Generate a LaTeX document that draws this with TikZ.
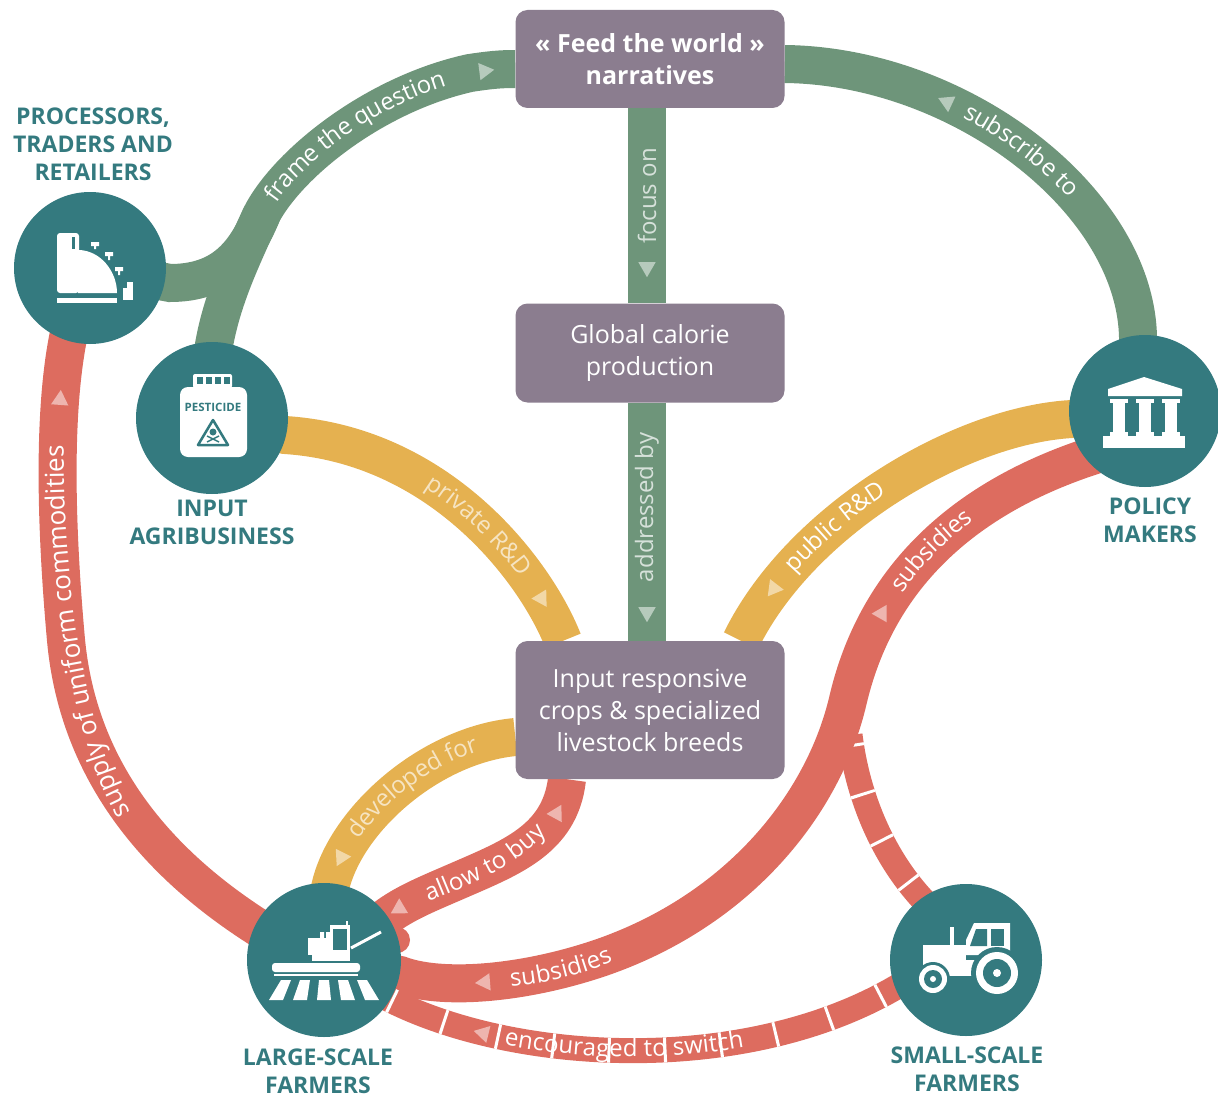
\documentclass[tikz,border=0pt]{standalone}
\usepackage{fontspec}
\setmainfont{Open Sans}
\usetikzlibrary{positioning, shapes.geometric, decorations.text}

\definecolor{tealc}{HTML}{347A7F}
\definecolor{greenc}{HTML}{6E957A}
\definecolor{boxc}{HTML}{8B7D8F}
\definecolor{yellowc}{HTML}{E5B150}
\definecolor{redc}{HTML}{DD6C5F}

\pgfdeclarelayer{bands}
\pgfsetlayers{bands,main}

\newcommand\onband{\fontsize{24}{28}\selectfont\color{white}}
\newcommand\paleg{\fontsize{24}{28}\selectfont\color{white!72!greenc}}
\newcommand\paley{\fontsize{24}{28}\selectfont\color{white!65!yellowc}}
\newcommand\onbandbig{\fontsize{26}{30}\selectfont\color{white}}

\tikzset{
    box/.style={rectangle, rounded corners=12pt, fill=boxc, text=white, minimum width=269pt,
        minimum height=98pt, align=center, font=\fontsize{25}{32}\selectfont},
    actor/.style={circle, fill=tealc, minimum size=152pt, inner sep=0pt},
    who/.style={text=tealc, font=\bfseries\fontsize{23}{28}\selectfont, align=center, inner sep=0pt},
    band/.style={line width=38pt},
    thinband/.style={line width=25pt, redc},
    ticks/.style={line width=25pt, white},
    tip/.style={isosceles triangle, isosceles triangle apex angle=60, fill=white, fill opacity=0.5,
        inner sep=0pt, minimum size=15pt, sloped, allow upside down},
    back/.style={shape border rotate=180},
    along/.style={decorate, decoration={text along path, text align=center, raise=-6.5pt, text={#1}}}
}

\begin{document}
\begin{tikzpicture}[x=1pt, y=-1pt]
    \useasboundingbox (0,0) rectangle (1218,1097);

    \node[box, font=\bfseries\fontsize{25}{32}\selectfont] (Feed) at (650,59) {« Feed the world »\\narratives};
    \node[box, minimum height=99pt] (Calorie) at (650,353) {Global calorie\\production};
    \node[box, minimum height=138pt] (Crops) at (650,710) {Input responsive\\crops \& specialized\\livestock breeds};

    \node[actor]                    (Processors)   at (90,268)  {};
    \node[actor]                    (Agribusiness) at (212,418) {};
    \node[actor]                    (Policy)       at (1145,411) {};
    \node[actor, minimum size=154pt] (Large)       at (324,960) {};
    \node[actor]                    (Small)        at (966,960) {};

    \node[who, above=11pt of Processors, xshift=3pt] (Processors label)   {PROCESSORS,\\TRADERS AND\\RETAILERS};
    \node[who, below=6pt of Agribusiness]            (Agribusiness label) {INPUT\\AGRIBUSINESS};
    \node[who, below=10pt of Policy, xshift=5pt]     (Policy label)       {POLICY\\MAKERS};
    \node[who, below=11pt of Large, xshift=-6pt]     (Large label)        {LARGE-SCALE\\FARMERS};
    \node[who, below=10pt of Small, xshift=1pt]      (Small label)        {SMALL-SCALE\\FARMERS};

    % icons
    \begin{scope}[shift={(Processors.center)}, white]
        \fill[rounded corners=3pt] (-33,-35) rectangle (-11,25);
        \fill (-12,25) -- (-12,-18) .. controls (10,-18) and (27,3) .. (27,25) -- cycle;
        \fill (-33,30) rectangle (27,35);
        \fill[tealc] (-18,-31) rectangle (-15,-19);
        \fill (1,-26) rectangle (9,-22) (4,-23) rectangle (6,-19);
        \fill (15,-16) rectangle (23,-12) (18,-13) rectangle (20,-8);
        \fill (25,-1) rectangle (33,3) (28,2) rectangle (30,7);
        \fill (33,14) rectangle (43,32);
        \fill[tealc] (33,14) rectangle (37,20);
    \end{scope}
    \begin{scope}[shift={(Agribusiness.center)}]
        \fill[white, rounded corners=8pt] (-32,-31) rectangle (35,39);
        \fill[white, rounded corners=2pt] (-19,-44) rectangle (20,-30);
        \foreach \x in {-15,-6,3,12} \fill[tealc] (\x,-41) rectangle ++(6,7);
        \node[text=tealc, font=\bfseries\fontsize{11.5}{12}\selectfont, inner sep=0pt] (Pesticide) at (1,-11) {PESTICIDE};
        \draw[tealc, line width=2.5pt, line join=round] (1,2) -- (16,27) -- (-14,27) -- cycle;
        \fill[tealc] (1,14) circle (3.5pt);
        \draw[tealc, line width=1.5pt] (-5,18) -- (7,24) (-5,24) -- (7,18);
    \end{scope}
    \begin{scope}[shift={(Policy.center)}, white]
        \fill (-37,-15) -- (-37,-22) -- (-1,-34) -- (37,-22) -- (37,-15) -- cycle;
        \foreach \x in {-26,0,26} {
            \fill ({\x-9},-12) rectangle ({\x+9},-8);
            \fill ({\x-6},-8) rectangle ({\x+6},21);
            \fill ({\x-9},21) rectangle ({\x+9},25);
        }
        \fill (-42,25) rectangle (40,37);
    \end{scope}
    \begin{scope}[shift={(Large.center)}, white]
        \fill (6,-35) rectangle (26,-8);
        \fill[tealc] (9,-31) rectangle (23,-10);
        \fill (22,-39) rectangle (24,-35);
        \fill (-16,-22) rectangle (6,-5);
        \fill (-4,-28) rectangle (0,-22) (2,-28) rectangle (6,-22);
        \fill (-12,-8) rectangle (26,1);
        \fill[rounded corners=3pt] (-52,3) rectangle (36,12);
        \fill (-50,14) rectangle (34,16);
        \draw[line width=3pt] (27,-12) -- (57,-28);
        \foreach \i in {-2,...,2}
            \fill ({\i*19-5},20) -- ({\i*19+5},20) -- ({\i*24+7},40) -- ({\i*24-7},40) -- cycle;
    \end{scope}
    \begin{scope}[shift={(Small.center)}]
        \fill[white] (-43,-15) rectangle (0,5);
        \fill[white] (-28,0) rectangle (14,16);
        \fill[white] (-16,-33) rectangle (-12,-15);
        \fill[white] (0,-5) -- (0,-20) -- (8,-37) -- (44,-37) -- (44,-5) -- cycle;
        \fill[tealc] (10,-31) -- (21,-31) -- (21,-14) -- (4,-14) -- cycle;
        \fill[tealc] (25,-31) rectangle (38,-14);
        \fill[tealc] (31,13) circle (26pt);
        \fill[white] (31,13) circle (21pt);
        \fill[tealc] (31,13) circle (14pt);
        \fill[white] (31,13) circle (4pt);
        \fill[tealc] (-33,19) circle (17pt);
        \fill[white] (-33,19) circle (14pt);
        \fill[tealc] (-33,19) circle (9pt);
        \fill[white] (-33,19) circle (3pt);
    \end{scope}

    \begin{pgfonlayer}{bands}
        % green
        \draw[band, greenc] (Agribusiness.center) -- (214,345) .. controls (222,300) and (240,262) .. (258,222)
            .. controls (280,170) and (370,95) .. (470,73)
            .. controls (490,70) and (500,69) .. ([yshift=-10pt]Feed.west) node[tip, pos=0.27] {};
        \draw[band, greenc] (Processors.center) -- (170,283) .. controls (222,283) and (245,255) .. (262,214);
        \path[along={|\onband|frame the question}] (258,222) .. controls (280,170) and (370,95) .. (470,73);

        \draw[band, greenc] ([yshift=-5pt]Feed.east) .. controls (960,66) and (1135,200) .. (1138,337)
            node[tip, back, pos=0.32] {} -- (Policy.center);
        \path[along={|\onband|subscribe to}] (937.5,98) .. controls (1001.5,126) and (1057,168.5) .. (1093.4,218);

        \draw[band, greenc] ([xshift=-3pt]Feed.south) -- ([xshift=-3pt]Calorie.north)
            node[pos=0.45, rotate=90, text=white!72!greenc, font=\fontsize{24}{28}\selectfont] {focus on}
            node[tip, pos=0.815] {};
        \draw[band, greenc] ([xshift=-3pt]Calorie.south) -- ([xshift=-3pt]Crops.north)
            node[pos=0.44, rotate=90, text=white!72!greenc, font=\fontsize{24}{28}\selectfont] {addressed by}
            node[tip, pos=0.88] {};

        % yellow
        \draw[band, yellowc] (Agribusiness.center) -- (285,435) .. controls (440,445) and (535,570) .. ([xshift=-87pt]Crops.north)
            node[tip, pos=0.82] {};
        \path[along={|\paley|private R{\&}D}] (408,470.4) .. controls (467.2,502.2) and (511,550.4) .. (538.2,593.3);

        \draw[band, yellowc] ([xshift=91pt]Crops.north) .. controls (800,520) and (960,425) .. (1072,419)
            node[tip, back, pos=0.15] {} -- (Policy.center);
        \path[along={|\onband|public R{\&}D}] (766.1,598.5) .. controls (803.4,546.1) and (858.4,500.9) .. (916.4,468.9);

        \draw[band, yellowc] (Large.center) -- (330,888) .. controls (345,820) and (430,745) .. ([yshift=-27pt]Crops.west)
            node[tip, back, pos=0.15] {};
        \path[along={|\paley|developed for}] (349.3,842.8) .. controls (377.3,798.2) and (429,757.8) .. (484.4,742.6);

        % red
        \draw[thinband] (Small.center) -- (925,902) .. controls (885,860) and (858,800) .. (850,735);
        \draw[ticks, dash pattern=on 3pt off 47pt, dash phase=5pt]
            (Small.center) -- (925,902) .. controls (885,860) and (858,800) .. (850,735);

        \draw[band, redc] (Large.center) -- (270,935) .. controls (180,880) and (80,790) .. (66,640)
            .. controls (57,540) and (52,420) .. (68,338) node[tip, pos=0.77] {} -- (Processors.center);
        \path[along={|\onbandbig|supply of uniform commodities}] (140,836) .. controls (80,770) and (52,560) .. (58,420);

        \fill[redc] (397,940) circle (13pt);
        \draw[band, redc] (Large.center) -- (380,922) .. controls (400,905) and (425,895) .. (455,882)
            node[tip, back, pos=0.3] {}
            .. controls (510,858) and (560,840) .. ([xshift=-83pt]Crops.south) node[tip, pos=0.78] {};
        \path[along={|\onband|allow to buy}] (405,905) .. controls (460,880) and (520,865) .. (556,810);

        \draw[band, redc] (Large.center) -- (400,975) .. controls (440,990) and (520,985) .. (600,958)
            node[tip, back, pos=0.5] {}
            .. controls (740,910) and (824,803) .. (848,700)
            .. controls (875,585) and (955,500) .. (1095,455) node[tip, pos=0.27] {} -- (Policy.center);
        \path[along={|\onband|subsidies}] (500,981) .. controls (540,978) and (580,970) .. (620,951);
        \path[along={|\onband|subsidies}] (883.4,610.7) .. controls (908.6,567.8) and (943.3,530.8) .. (990.4,501.5);

        \draw[thinband] (Large.center) -- (390,1000) .. controls (520,1065) and (750,1075) .. (900,985)
            node[tip, back, pos=0.21] {} -- (Small.center);
        \path[along={|\onband|encouraged to switch}] (478.6,1032.1) .. controls (566.5,1054.3) and (672.8,1057.5) .. (769.7,1035.3);
        \draw[ticks, dash pattern=on 3pt off 53pt, dash phase=34pt]
            (Large.center) -- (390,1000) .. controls (520,1065) and (750,1075) .. (900,985) -- (Small.center);
    \end{pgfonlayer}
\end{tikzpicture}
\end{document}
